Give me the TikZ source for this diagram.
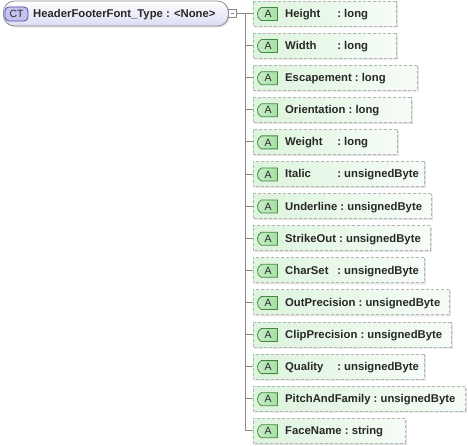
\documentclass[tikz,border=0pt]{standalone}
\usepackage{fontspec}
\setmainfont{Liberation Sans}
\usetikzlibrary{shapes.misc,shadows}
\definecolor{treegray}{HTML}{8C8C8C}
\definecolor{dashgray}{HTML}{B4B4B4}
\definecolor{attrgreen}{HTML}{DDF4DD}
\definecolor{badgegreen}{HTML}{A6DFA6}
\definecolor{badgeline}{HTML}{3C8C3C}
\definecolor{rootlav}{HTML}{DCDCF4}
\definecolor{ctlav}{HTML}{C4C4F0}
\definecolor{ctline}{HTML}{4C4C9C}
\definecolor{textdark}{HTML}{282828}
\newlength\attrnamewidth
\newcommand\attrlabel[2]{%
  \settowidth\attrnamewidth{#1}%
  \ifdim\attrnamewidth<49pt\makebox[49pt][l]{#1}\else#1\fi\ :\ #2}
\tikzset{
  treeline/.style = {
    draw=treegray,
    line width=0.8pt
  },
  rootbox/.style = {
    rectangle,
    rounded corners=11pt,
    draw=treegray,
    line width=0.8pt,
    top color=white,
    bottom color=rootlav,
    minimum width=225pt,
    minimum height=25pt,
    inner sep=0pt,
    drop shadow={shadow xshift=1.5pt,shadow yshift=-1.5pt,opacity=0.25}
  },
  ctbadge/.style = {
    rectangle,
    rounded corners=4pt,
    draw=ctline,
    line width=0.8pt,
    fill=ctlav,
    minimum width=23pt,
    minimum height=14pt,
    inner sep=0pt,
    text=textdark,
    font=\fontsize{10.5}{12}\selectfont
  },
  togglebox/.style = {
    rectangle,
    draw=treegray,
    line width=0.7pt,
    fill=white,
    minimum size=7.5pt,
    inner sep=0pt,
    path picture={
      \draw[treeline,line width=0.6pt]
        ([xshift=1.8pt]path picture bounding box.west) --
        ([xshift=-1.8pt]path picture bounding box.east);
    }
  },
  attrbox/.style = {
    chamfered rectangle,
    chamfered rectangle corners={north west,south west},
    chamfered rectangle xsep=7pt,
    chamfered rectangle ysep=9.5pt,
    draw=dashgray,
    line width=0.9pt,
    dash pattern=on 3pt off 2pt,
    left color=attrgreen,
    right color=attrgreen!25!white,
    minimum height=25pt,
    inner sep=0pt,
    drop shadow={shadow xshift=1.5pt,shadow yshift=-1.5pt,opacity=0.22}
  },
  abadge/.style = {
    rounded rectangle,
    rounded rectangle right arc=none,
    rounded rectangle arc length=120,
    draw=badgeline,
    line width=0.8pt,
    left color=badgegreen!60!white,
    right color=badgegreen,
    minimum width=20pt,
    minimum height=13pt,
    inner sep=0pt,
    text=textdark,
    font=\fontsize{10.5}{12}\selectfont
  },
  labeltext/.style = {
    inner sep=0pt,
    anchor=base west,
    text=textdark,
    font=\fontsize{11.3}{13}\selectfont\bfseries
  }
}
\begin{document}
\begin{tikzpicture}[x=1pt,y=-1pt]
  \useasboundingbox (0,0) rectangle (468,446);
  % complex type
  \node[rootbox, anchor=west] (root) at (3,13.5) {};
  \node[ctbadge] (ct) at (16.5,14) {CT};
  \node[labeltext] (rootlabel) at (33,17.5) {HeaderFooterFont\_Type : <None>};
  \node[togglebox] (toggle) at (232.5,13.5) {};
  % attributes
  \foreach \aname/\atype/\boxw [count=\i from 0] in {
      Height/long/143.5,
      Width/long/143.5,
      Escapement/long/164.5,
      Orientation/long/158.5,
      Weight/long/144.5,
      Italic/unsignedByte/171.5,
      Underline/unsignedByte/178.5,
      StrikeOut/unsignedByte/177.5,
      CharSet/unsignedByte/171.5,
      OutPrecision/unsignedByte/196.5,
      ClipPrecision/unsignedByte/198.5,
      Quality/unsignedByte/171.5,
      PitchAndFamily/unsignedByte/212.5,
      FaceName/string/152.5} {
    \pgfmathsetmacro\yy{13.5+32.1*\i}
    \coordinate (t\i) at (245.5,\yy);
    \node[attrbox, anchor=west, minimum width=\boxw pt] (a\i) at (252.5,\yy) {};
    \node[abadge] (b\i) at (268,\yy+0.5) {A};
    \node[labeltext] (l\i) at (285,\yy+4) {\attrlabel{\aname}{\atype}};
    \draw[treeline] (t\i) -- (a\i.west);
  }
  \draw[treeline] (root.east) -- (toggle.west);
  \draw[treeline] (toggle.east) -- (t0);
  \draw[treeline] (t0) -- (t13);
\end{tikzpicture}
\end{document}
